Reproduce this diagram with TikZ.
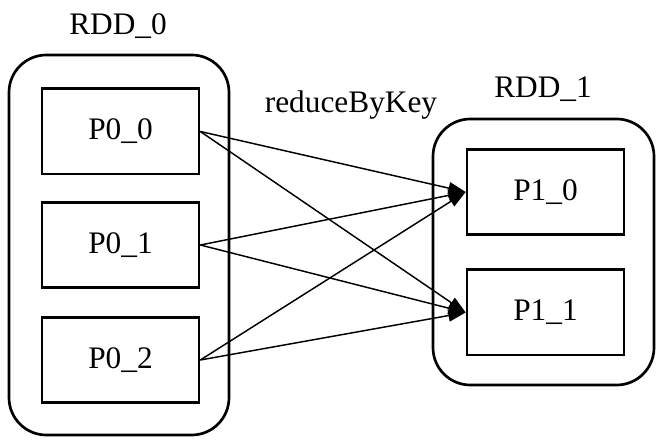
\documentclass[tikz,border=0pt]{standalone}
\usepackage{fontspec}
\setmainfont{Liberation Serif}
\usetikzlibrary{arrows.meta}
\begin{document}
\begin{tikzpicture}[x=0.75pt,y=-0.75pt,
  font=\fontsize{23.5}{28}\selectfont,
  rdd/.style={draw, line width=2pt, rounded corners=28pt, inner sep=0pt},
  part/.style={draw, line width=2pt, minimum width=117.75pt, minimum height=64pt, inner sep=0pt},
  lbl/.style={anchor=base, inner sep=0pt},
  flow/.style={line width=1.1pt, -{Triangle[length=13pt, width=9pt]}}]
  \useasboundingbox (0,0) rectangle (668,445);

  % containers
  \node[rdd, minimum width=165pt, minimum height=285pt] (rdd0) at (119,245) {};
  \node[rdd, minimum width=165.75pt, minimum height=199.5pt] (rdd1) at (543.5,252) {};

  % container titles
  \node[lbl] (t0) at (118,35) {RDD\_0};
  \node[lbl] (t1) at (543,98) {RDD\_1};
  \node[lbl] (op) at (351,113) {reduceByKey};

  % partitions
  \node[part] (p00) at (120.5,131.5) {P0\_0};
  \node[part] (p01) at (120.5,245) {P0\_1};
  \node[part] (p02) at (120.5,360) {P0\_2};
  \node[part] (p10) at (545.5,192) {P1\_0};
  \node[part] (p11) at (545.5,312.5) {P1\_1};

  % shuffle edges
  \foreach \s in {p00,p01,p02}{
    \draw[flow] (\s.east) -- (p10.west);
    \draw[flow] (\s.east) -- (p11.west);
  }
\end{tikzpicture}
\end{document}
